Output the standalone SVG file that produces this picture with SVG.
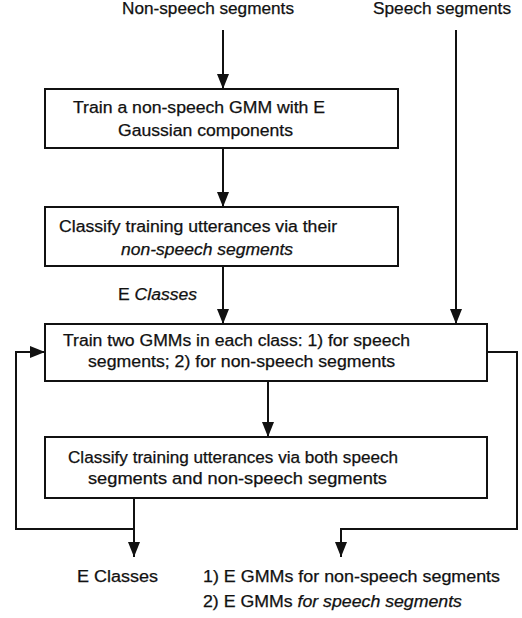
<svg xmlns="http://www.w3.org/2000/svg" width="522" height="618" viewBox="0 0 522 618">
<style>
text{font-family:"Liberation Sans",Arial,sans-serif;font-size:16px;fill:#111;stroke:#111;stroke-width:0.25}
.it{font-style:italic}
.box{fill:#fff;stroke:#111;stroke-width:2}
.ln{fill:none;stroke:#111;stroke-width:2}
</style>
<defs>
<marker id="ah" viewBox="0 0 15 12" refX="15" refY="6" markerWidth="15" markerHeight="12" markerUnits="userSpaceOnUse" orient="auto">
<path d="M0,0 L15,6 L0,12 Z" fill="#111"/>
</marker>
</defs>
<rect width="522" height="618" fill="#fff"/>
<g id="labels">
<text x="122" y="14" textLength="172" lengthAdjust="spacingAndGlyphs">Non-speech segments</text>
<text x="373" y="14" textLength="138" lengthAdjust="spacingAndGlyphs">Speech segments</text>
<text x="118" y="300" textLength="79" lengthAdjust="spacingAndGlyphs">E <tspan class="it">Classes</tspan></text>
</g>
<g id="connectors">
<path class="ln" d="M223,30 V89" marker-end="url(#ah)"/>
<path class="ln" d="M223,148 V207" marker-end="url(#ah)"/>
<path class="ln" d="M223,266 V324" marker-end="url(#ah)"/>
<path class="ln" d="M456,30 V324" marker-end="url(#ah)"/>
<path class="ln" d="M268,381 V437" marker-end="url(#ah)"/>
<path class="ln" d="M134,498 V557" marker-end="url(#ah)"/>
<path class="ln" d="M134,529 H16 V352 H45" marker-end="url(#ah)"/>
<path class="ln" d="M487,352 H517 V529 H341 V557" marker-end="url(#ah)"/>
</g>
<g id="n1">
<rect class="box" x="45" y="89" width="353" height="59"/>
<text x="73" y="113" textLength="252" lengthAdjust="spacingAndGlyphs">Train a non-speech GMM with E</text>
<text x="118" y="136" textLength="175" lengthAdjust="spacingAndGlyphs">Gaussian components</text>
</g>
<g id="n2">
<rect class="box" x="45" y="207" width="353" height="59"/>
<text x="59" y="232" textLength="278" lengthAdjust="spacingAndGlyphs">Classify training utterances via their</text>
<text class="it" x="121" y="255" textLength="172" lengthAdjust="spacingAndGlyphs">non-speech segments</text>
</g>
<g id="n3">
<rect class="box" x="45" y="324" width="442" height="57"/>
<text x="63" y="346" textLength="347" lengthAdjust="spacingAndGlyphs">Train two GMMs in each class: 1) for speech</text>
<text x="88" y="367" textLength="307" lengthAdjust="spacingAndGlyphs">segments; 2) for non-speech segments</text>
</g>
<g id="n4">
<rect class="box" x="45" y="437" width="442" height="61"/>
<text x="68" y="463" textLength="330" lengthAdjust="spacingAndGlyphs">Classify training utterances via both speech</text>
<text x="88" y="484" textLength="299" lengthAdjust="spacingAndGlyphs">segments and non-speech segments</text>
</g>
<g id="outputs">
<text x="77" y="582" textLength="81" lengthAdjust="spacingAndGlyphs">E Classes</text>
<text x="203" y="582" textLength="297" lengthAdjust="spacingAndGlyphs">1) E GMMs for non-speech segments</text>
<text x="203" y="607" textLength="259" lengthAdjust="spacingAndGlyphs">2) E GMMs <tspan class="it">for speech segments</tspan></text>
</g>
</svg>
